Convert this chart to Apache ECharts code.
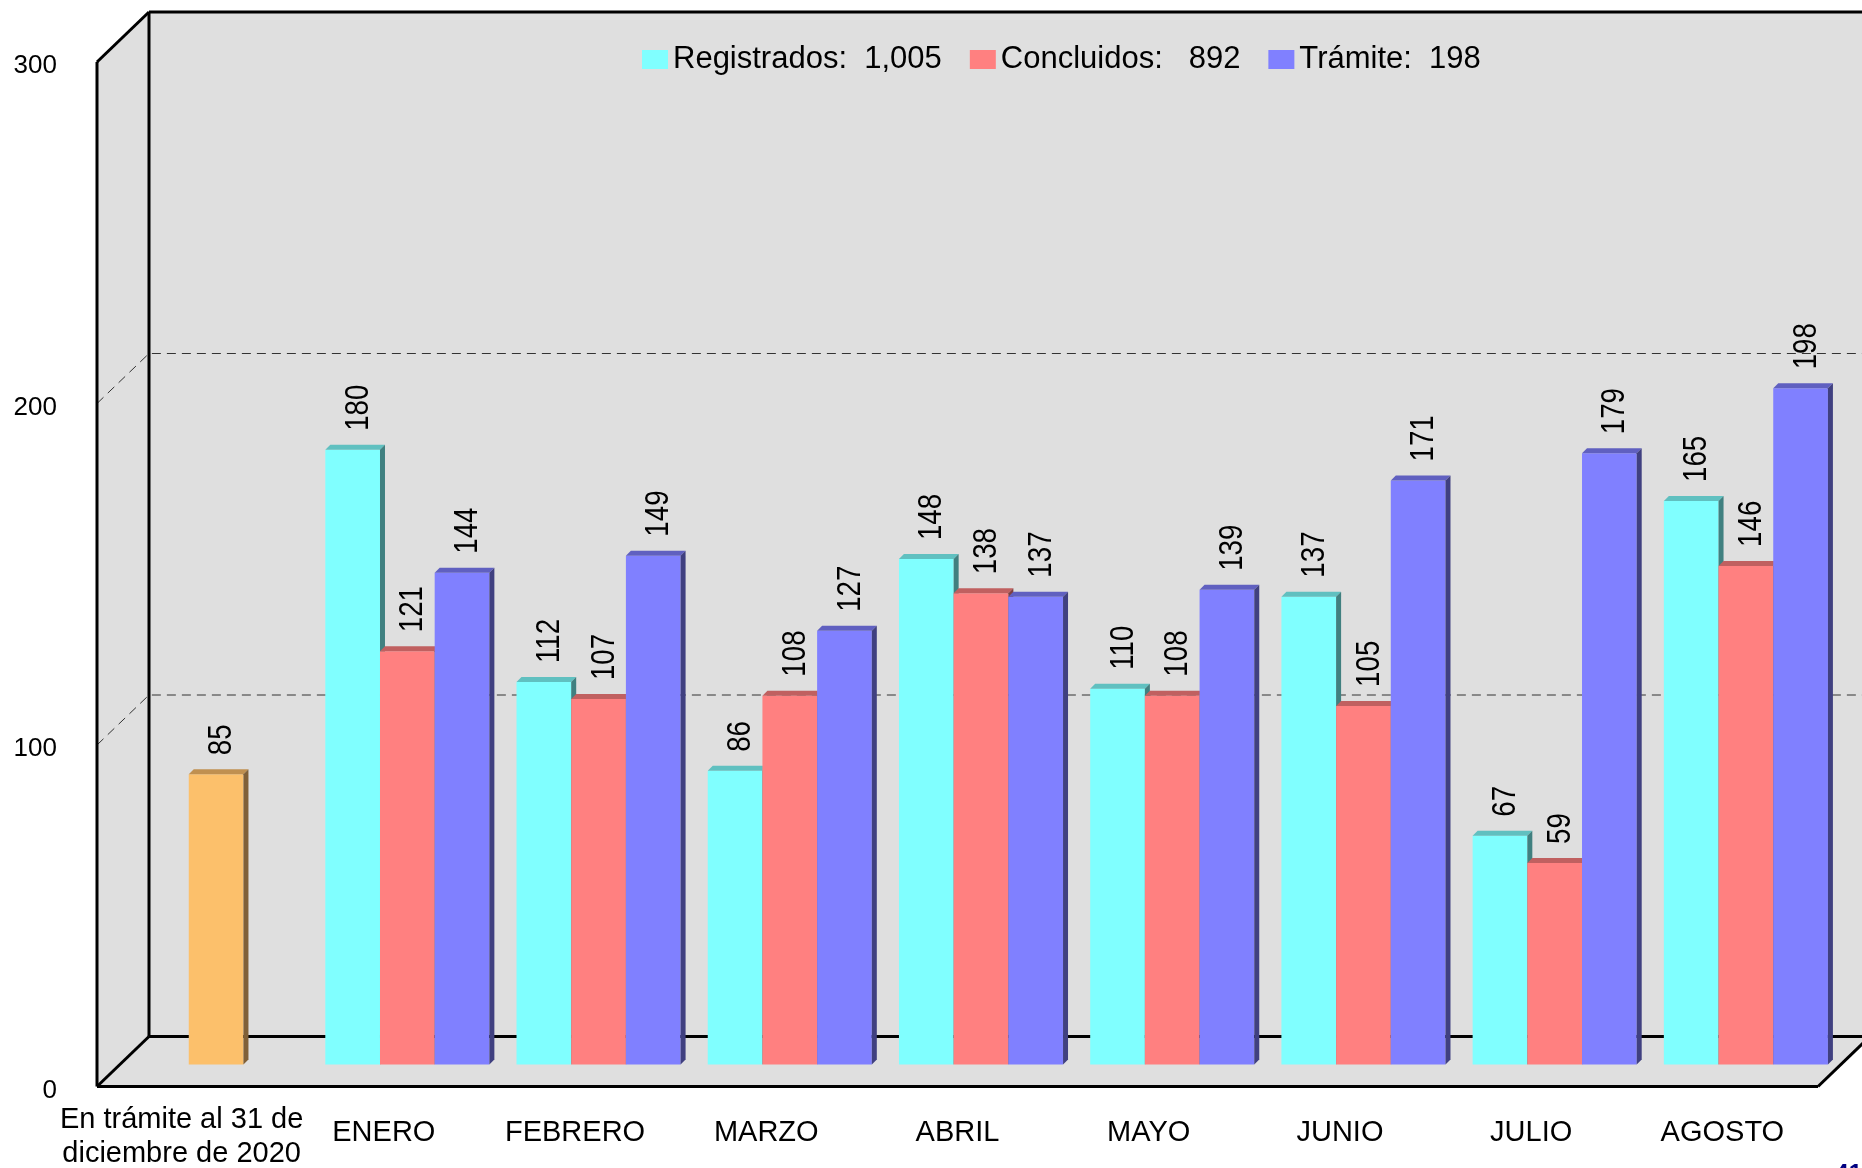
<!DOCTYPE html>
<html>
<head>
<meta charset="utf-8">
<script src="https://cdn.jsdelivr.net/npm/echarts@6.0.0/dist/echarts.min.js"></script>
<style>
  html, body { margin: 0; padding: 0; background: #fff; }
  #chart { width: 1862px; height: 1168px; }
</style>
</head>
<body>
<div id="chart"></div>
<script>
  // datos
  var categories = ['En trámite al 31 de\ndiciembre de 2020', 'ENERO', 'FEBRERO', 'MARZO', 'ABRIL', 'MAYO', 'JUNIO', 'JULIO', 'AGOSTO'];
  var pendiente = [85, null, null, null, null, null, null, null, null];
  var registrados = [null, 180, 112, 86, 148, 110, 137, 67, 165];
  var concluidos = [null, 121, 107, 108, 138, 108, 105, 59, 146];
  var tramite = [null, 144, 149, 127, 137, 139, 171, 179, 198];
  var yTicks = [0, 100, 200, 300];

  var WALL_DX = 52, WALL_DY = -50;   // profundidad de las paredes
  var BAR_DX = 23.5, BAR_DY = -22;   // barras a media profundidad
  var BAR_D = 5;                     // grosor 3D de cada barra
  var BG = '#dfdfdf';
  var FONT = "'Liberation Sans', Arial, sans-serif";

  function sum(arr) {
    return arr.reduce(function (a, b) { return a + (b || 0); }, 0);
  }
  function fmt(n) {
    return n.toLocaleString('en-US');
  }
  var lastTramite = tramite[tramite.length - 1];
  var names = [
    'Registrados:  ' + fmt(sum(registrados)),
    'Concluidos:   ' + fmt(sum(concluidos)),
    'Trámite:  ' + fmt(lastTramite)
  ];

  function toItems(arr) {
    var out = [];
    arr.forEach(function (v, i) { if (v != null) out.push([i, v]); });
    return out;
  }

  function barSeries(name, arr, slot, colors) {
    return {
      type: 'custom',
      name: name,
      z: 5,
      itemStyle: { color: colors[0] },
      data: toItems(arr),
      renderItem: function (params, api) {
        var idx = api.value(0), val = api.value(1);
        var base = api.coord([idx, 0]);
        var top = api.coord([idx, val]);
        var band = api.size([1, 0])[0];
        var w = band * 0.286;
        var cx = base[0] + slot * w + BAR_DX;
        var x0 = cx - w / 2, x1 = cx + w / 2;
        var yb = base[1] + BAR_DY, yt = top[1] + BAR_DY;
        var d = BAR_D;
        return {
          type: 'group',
          children: [
            { type: 'rect', shape: { x: x0, y: yt, width: w, height: yb - yt }, style: { fill: colors[0] } },
            { type: 'polygon', shape: { points: [[x0, yt], [x0 + d, yt - d], [x1 + d, yt - d], [x1, yt]] }, style: { fill: colors[1] } },
            { type: 'polygon', shape: { points: [[x1, yt], [x1 + d, yt - d], [x1 + d, yb - d], [x1, yb]] }, style: { fill: colors[2] } },
            {
              type: 'text',
              x: cx + 6,
              y: yt - d - 14,
              rotation: Math.PI / 2,
              scaleX: 0.84,
              style: {
                text: String(val),
                fill: '#000',
                font: '33px ' + FONT,
                align: 'left',
                verticalAlign: 'middle'
              }
            }
          ]
        };
      }
    };
  }

  var chart = echarts.init(document.getElementById('chart'));
  chart.setOption({
    backgroundColor: '#fff',
    animation: false,
    textStyle: { fontFamily: FONT },
    legend: {
      data: names,
      top: 39,
      left: 637,
      itemWidth: 26,
      itemHeight: 19,
      itemGap: 28,
      icon: 'rect',
      selectedMode: false,
      textStyle: {
        fontFamily: FONT,
        fontSize: 31,
        color: '#000'
      }
    },
    grid: { left: 97, top: 62, width: 1721, height: 1025 },
    xAxis: {
      type: 'category',
      data: categories,
      axisLine: { show: false },
      axisTick: { show: false },
      axisLabel: {
        fontSize: 29,
        lineHeight: 34,
        color: '#000',
        margin: 46,
        verticalAlign: 'middle',
        interval: 0,
        formatter: function (v, i) {
          return i === 0 ? '{first|' + v + '}' : v;
        },
        rich: {
          first: { fontSize: 29, lineHeight: 34, color: '#000', padding: [8, 22, 0, 0] }
        }
      }
    },
    yAxis: {
      type: 'value',
      min: yTicks[0],
      max: yTicks[yTicks.length - 1],
      interval: 100,
      axisLine: { show: false },
      axisTick: { show: false },
      splitLine: { show: false },
      axisLabel: { fontSize: 26, color: '#000', margin: 40, verticalAlign: 'top', lineHeight: 8 }
    },
    graphic: [
      { type: 'text', right: 0, top: 1162, style: { text: '41', fill: '#000080', font: 'bold 24px ' + FONT } }
    ],
    series: [
      {
        type: 'custom',
        name: 'marco',
        silent: true,
        z: 1,
        data: [[0, 0]],
        renderItem: function (params, api) {
          var cs = params.coordSys;
          var x = cs.x, y = cs.y, w = cs.width, h = cs.height;
          var dx = WALL_DX, dy = WALL_DY;
          var line = function (a, b) {
            return { type: 'line', shape: { x1: a[0], y1: a[1], x2: b[0], y2: b[1] }, style: { stroke: '#000', lineWidth: 3 } };
          };
          var kids = [
            { type: 'polygon', shape: { points: [[x, y], [x + dx, y + dy], [x + dx, y + h + dy], [x, y + h]] }, style: { fill: BG } },
            { type: 'rect', shape: { x: x + dx, y: y + dy, width: w, height: h }, style: { fill: BG } },
            { type: 'polygon', shape: { points: [[x, y + h], [x + dx, y + h + dy], [x + w + dx, y + h + dy], [x + w, y + h]] }, style: { fill: BG } }
          ];
          yTicks.forEach(function (t, i) {
            if (i === 0 || i === yTicks.length - 1) return;
            var yv = api.coord([0, t])[1];
            kids.push({
              type: 'polyline',
              shape: { points: [[x, yv], [x + dx, yv + dy], [x + w + dx, yv + dy]] },
              style: { stroke: '#333', lineWidth: 1, lineDash: [9, 6], fill: null }
            });
          });
          kids.push(
            line([x, y], [x, y + h]),
            line([x, y], [x + dx, y + dy]),
            line([x + dx, y + dy], [x + w + dx, y + dy]),
            line([x + dx, y + dy], [x + dx, y + h + dy]),
            line([x + dx, y + h + dy], [x + w + dx, y + h + dy]),
            line([x, y + h], [x + dx, y + h + dy]),
            line([x, y + h], [x + w, y + h]),
            line([x + w, y + h], [x + w + dx, y + h + dy])
          );
          return { type: 'group', children: kids };
        }
      },
      barSeries('pendiente', pendiente, 0, ['#fcc06b', '#c09050', '#806038']),
      barSeries(names[0], registrados, -1, ['#80ffff', '#60c0c0', '#408080']),
      barSeries(names[1], concluidos, 0, ['#ff8080', '#c06060', '#804040']),
      barSeries(names[2], tramite, 1, ['#8080ff', '#6060c0', '#404080'])
    ]
  });
</script>
</body>
</html>
